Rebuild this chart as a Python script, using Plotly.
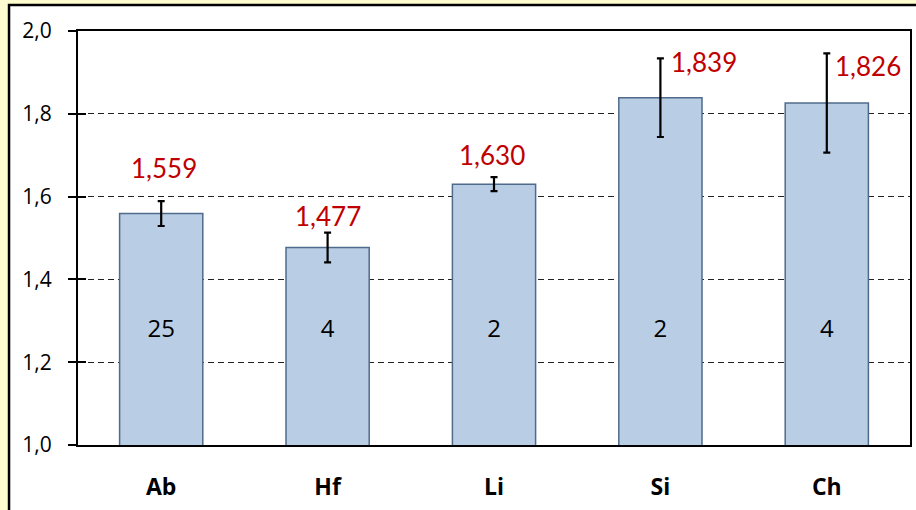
import plotly.graph_objects as go

categories = ["Ab", "Hf", "Li", "Si", "Ch"]
means = [1.559, 1.477, 1.630, 1.839, 1.826]
errors = [0.030, 0.036, 0.017, 0.095, 0.120]
counts = [25, 4, 2, 2, 4]
count_level = 1.275
y_ticks = [1.0, 1.2, 1.4, 1.6, 1.8, 2.0]

# label placement (pixel offsets from error bar top)
label_shift = [(3, 33), (0, 17), (-2, 22), (44, -4), (41, -13)]

FONT = "Open Sans"

fig = go.Figure()
fig.add_trace(go.Bar(
    x=categories, y=means, width=0.5,
    marker=dict(color="#b9cde5", line=dict(color="#4f6b8c", width=1.5)),
    error_y=dict(type="data", array=errors, visible=True, color="black",
                 thickness=2.2, width=3.5),
    hoverinfo="skip", showlegend=False,
))
fig.add_trace(go.Scatter(
    x=categories, y=[count_level] * len(categories), mode="text",
    text=[str(c) for c in counts],
    textfont=dict(family=FONT, size=24, color="black"),
    hoverinfo="skip", showlegend=False,
))

for cat, m, e, (dx, dy) in zip(categories, means, errors, label_shift):
    fig.add_annotation(
        x=cat, y=m + e, text=f"{m:.3f}".replace(".", ","),
        showarrow=False, xshift=dx, yshift=dy, yanchor="middle",
        font=dict(family="Lato", size=26, color="#c00000"),
    )

# outer framed panel
fig.add_shape(type="rect", xref="paper", yref="paper",
              x0=-0.0829, x1=1.05, y0=-0.3, y1=1.0628,
              fillcolor="white", line=dict(color="black", width=2.5),
              layer="below")

fig.update_layout(
    width=916, height=510,
    margin=dict(l=78, r=6, t=31, b=65, autoexpand=False),
    paper_bgcolor="#fffdd0", plot_bgcolor="white",
    separators=",.",
    xaxis=dict(
        showline=True, linecolor="black", linewidth=2, mirror=True,
        ticks="", showgrid=False, automargin=False,
        tickfont=dict(family=FONT, size=23, color="black", weight="bold"),
        ticklabelstandoff=20,
    ),
    yaxis=dict(
        range=[1.0, 2.0], tickvals=y_ticks, tickformat=".1f",
        showline=True, linecolor="black", linewidth=2, mirror=True,
        ticks="outside", ticklen=8, tickwidth=2, tickcolor="black",
        showgrid=True, gridcolor="#222222", griddash="6px,4px", gridwidth=1.4,
        zeroline=False, automargin=False,
        tickfont=dict(family=FONT, size=21, color="black"),
        ticklabelstandoff=12,
    ),
    yaxis2=dict(
        range=[1.0, 2.0], tickvals=y_ticks, overlaying="y",
        ticks="inside", ticklen=8, tickwidth=2, tickcolor="black",
        showticklabels=False, showgrid=False, zeroline=False, showline=False,
        automargin=False,
    ),
)
fig.add_trace(go.Scatter(x=[None], y=[None], yaxis="y2", showlegend=False,
                         hoverinfo="skip"))

fig.write_html("out.html", config={"displayModeBar": False},
               post_script="document.body.style.margin='0px';")
